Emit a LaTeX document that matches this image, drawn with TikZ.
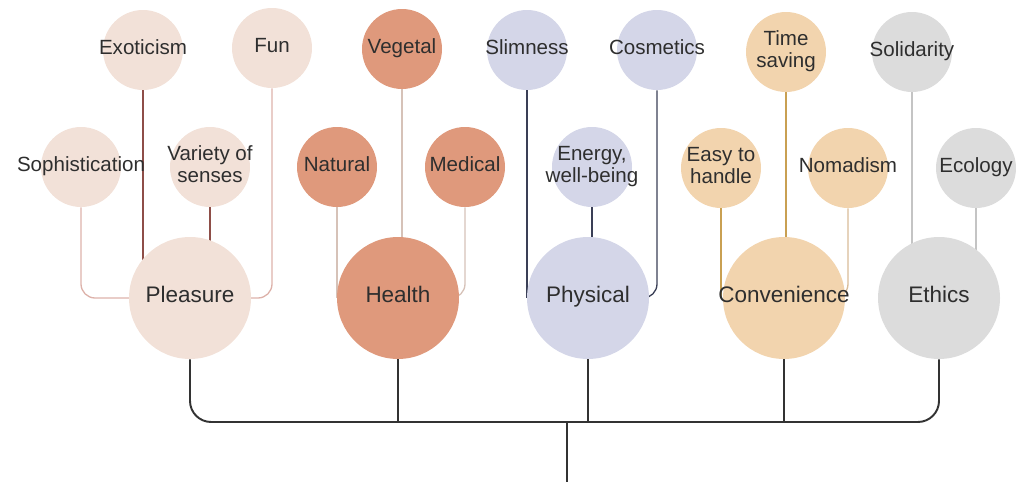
\documentclass[tikz,border=0pt]{standalone}
\usepackage{fontspec}
\setmainfont{Liberation Sans}
\usetikzlibrary{backgrounds}

\definecolor{pleasurefill}{HTML}{F2E1D8}
\definecolor{healthfill}{HTML}{DF997C}
\definecolor{physicalfill}{HTML}{D4D6E8}
\definecolor{conveniencefill}{HTML}{F2D4AE}
\definecolor{ethicsfill}{HTML}{DCDCDC}
\definecolor{labeltext}{HTML}{2E2E2E}
\definecolor{pleasuredark}{HTML}{8E4E48}
\definecolor{pleasurelight}{HTML}{DDB2AA}
\definecolor{healthline}{HTML}{D6C2B8}
\definecolor{physicalline}{HTML}{3A3F56}
\definecolor{convenienceline}{HTML}{C9A052}
\definecolor{conveniencelight}{HTML}{D9BC98}
\definecolor{ethicsline}{HTML}{C4C4C4}

\newcommand{\circtext}[1]{\makebox[0pt][c]{\begin{tabular}{@{}c@{}}#1\end{tabular}}}

\tikzset{
  subnode/.style={circle, minimum size=1.6cm, inner sep=0pt, text=labeltext,
    font=\fontsize{11.7}{12.6}\selectfont},
  mainnode/.style={circle, minimum size=2.44cm, inner sep=0pt, text=labeltext,
    font=\fontsize{12.8}{14}\selectfont},
  pleasure/.style={fill=pleasurefill},
  health/.style={fill=healthfill},
  physical/.style={fill=physicalfill},
  convenience/.style={fill=conveniencefill},
  ethics/.style={fill=ethicsfill},
  link/.style={line width=0.75pt, rounded corners=8pt},
  trunk/.style={line width=1.1pt, black!80, rounded corners=12pt}
}

\begin{document}
\begin{tikzpicture}[x=0.02cm, y=-0.02cm]
  \useasboundingbox (0,0) rectangle (1016,482);

  % main categories
  \node[mainnode, pleasure] (plea) at (190,298) {\circtext{Pleasure}};
  \node[mainnode, health] (health) at (398,298) {\circtext{Health}};
  \node[mainnode, physical] (phys) at (588,298) {\circtext{Physical}};
  \node[mainnode, convenience] (conv) at (784,298) {\circtext{Convenience}};
  \node[mainnode, ethics] (ethics) at (939,298) {\circtext{Ethics}};

  % top row
  \node[subnode, pleasure] (exo) at (143,50) {\circtext{Exoticism}};
  \node[subnode, pleasure] (fun) at (272,48) {\circtext{Fun}};
  \node[subnode, health] (veg) at (402,49) {\circtext{Vegetal}};
  \node[subnode, physical] (slim) at (527,50) {\circtext{Slimness}};
  \node[subnode, physical] (cosm) at (657,50) {\circtext{Cosmetics}};
  \node[subnode, convenience] (time) at (786,52) {\circtext{Time\\saving}};
  \node[subnode, ethics] (soli) at (912,52) {\circtext{Solidarity}};

  % middle row
  \node[subnode, pleasure] (soph) at (81,167) {\circtext{Sophistication}};
  \node[subnode, pleasure] (vari) at (210,167) {\circtext{Variety of\\senses}};
  \node[subnode, health] (natu) at (337,167) {\circtext{Natural}};
  \node[subnode, health] (medi) at (465,167) {\circtext{Medical}};
  \node[subnode, physical] (ener) at (592,167) {\circtext{Energy,\\well-being}};
  \node[subnode, convenience] (easy) at (721,168) {\circtext{Easy to\\handle}};
  \node[subnode, convenience] (noma) at (848,168) {\circtext{Nomadism}};
  \node[subnode, ethics] (ecol) at (976,168) {\circtext{Ecology}};

  \coordinate (hub) at (567,422);
  \coordinate (root) at (567,482);

  \begin{scope}[on background layer]
    % pleasure
    \draw[link, pleasuredark] (exo.south) -- (exo.south |- plea.center);
    \draw[link, pleasuredark] (vari.south) -- (vari.south |- plea.center);
    \draw[link, pleasurelight] (soph.south) |- (plea.center);
    \draw[link, pleasurelight] (fun.south) |- (plea.center);
    % health
    \draw[link, healthline] (natu.south) -- (natu.south |- health.center);
    \draw[link, healthline] (veg.south) -- (veg.south |- health.center);
    \draw[link, healthline] (medi.south) |- (health.center);
    % physical
    \draw[link, physicalline] (slim.south) -- (slim.south |- phys.center);
    \draw[link, physicalline] (ener.south) -- (ener.south |- phys.center);
    \draw[link, physicalline] (cosm.south) |- (phys.center);
    % convenience
    \draw[link, convenienceline] (easy.south) -- (easy.south |- conv.center);
    \draw[link, convenienceline] (time.south) -- (time.south |- conv.center);
    \draw[link, conveniencelight] (noma.south) |- (conv.center);
    % ethics
    \draw[link, ethicsline] (soli.south) -- (soli.south |- ethics.center);
    \draw[link, ethicsline] (ecol.south) -- (ecol.south |- ethics.center);

    % trunk
    \draw[trunk] (plea.south) |- (hub) -| (ethics.south);
    \draw[trunk] (health.south) -- (health.south |- hub);
    \draw[trunk] (phys.south) -- (phys.south |- hub);
    \draw[trunk] (conv.south) -- (conv.south |- hub);
    \draw[trunk] (hub) -- (root);
  \end{scope}
\end{tikzpicture}
\end{document}
